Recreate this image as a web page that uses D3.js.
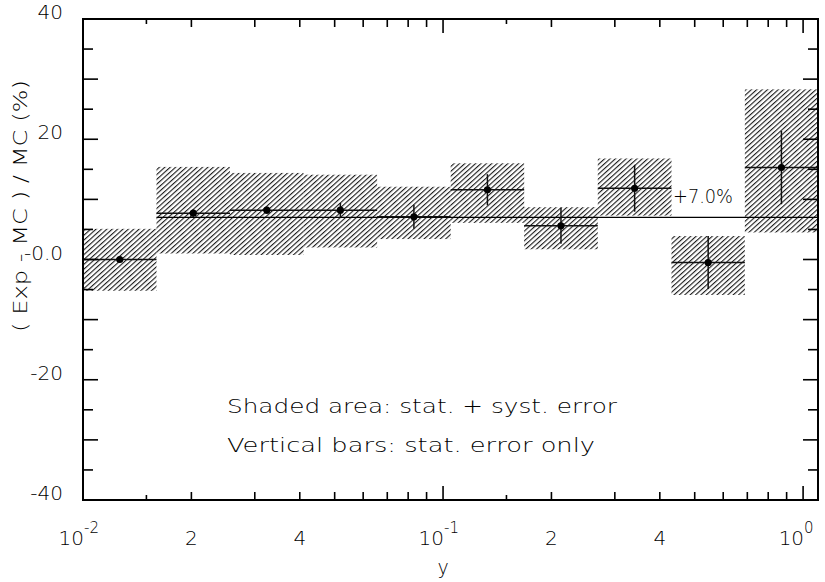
<!DOCTYPE html>
<meta charset="utf-8">
<title>Exp - MC</title>
<script src="https://d3js.org/d3.v7.min.js"></script>
<style>
  body { margin: 0; background: #fff; }
  text { font-family: "DejaVu Sans", "Liberation Sans", sans-serif; font-weight: 200; fill: #000; }
</style>
<div id="plot"></div>
<script>

    // bin edges in y (log spaced) and the measured points
    var binEdges = [0.01, 0.016, 0.0256, 0.041, 0.0656, 0.105, 0.168, 0.269, 0.431, 0.689, 1.1];
    var values   = [0.0, 7.7, 8.2, 8.2, 7.1, 11.6, 5.6, 11.85, -0.5, 15.3];
    var statErr  = [0.5, 0.6, 0.6, 1.2, 2.0, 2.6, 3.0, 3.9, 4.4, 6.1];
    var boxLow   = [-5.2, 1.0, 0.75, 2.0, 3.4, 6.1, 1.7, 7.3, -5.9, 4.5];
    var boxHigh  = [5.1, 15.4, 14.4, 14.1, 12.1, 16.0, 8.7, 16.8, 3.9, 28.3];
    var meanLine = 7.0;

    var yTickValues = [-40, -20, 0, 20, 40];
    var yTickLabels = ["-40", "-20", "-0.0", "20", "40"];
    var xLabelValues = [0.01, 0.02, 0.04, 0.1, 0.2, 0.4, 1];
    var xLabelBase   = ["10", "2", "4", "10", "2", "4", "10"];
    var xLabelExp    = ["-2", "", "", "-1", "", "", "0"];

    var W = 825, H = 582;
    var margin = {top: 19, right: 7, bottom: 82, left: 83};

    var svg = d3.select("#plot")
      .append("svg")
        .attr("width", W)
        .attr("height", H);

    var x = d3.scaleLog()
      .domain([binEdges[0], binEdges[binEdges.length - 1]])
      .range([margin.left, W - margin.right]);

    var y = d3.scaleLinear()
      .domain([-40, 40])
      .range([H - margin.bottom, margin.top]);

    // hatch pattern for the stat+syst boxes
    var defs = svg.append("defs");
    defs.append("pattern")
        .attr("id", "hatch")
        .attr("patternUnits", "userSpaceOnUse")
        .attr("width", 3.6)
        .attr("height", 3.6)
        .attr("patternTransform", "rotate(48)")
      .append("line")
        .attr("x1", 0.6).attr("y1", 0)
        .attr("x2", 0.6).attr("y2", 3.6)
        .attr("stroke", "#000")
        .attr("stroke-width", 1.0);

    var bins = values.map(function(v, i) {
      return {
        lo: binEdges[i], hi: binEdges[i + 1],
        mid: Math.sqrt(binEdges[i] * binEdges[i + 1]),
        v: v, e: statErr[i], bLo: boxLow[i], bHi: boxHigh[i]
      };
    });

    // shaded boxes
    svg.selectAll("rect.box")
      .data(bins)
      .enter()
      .append("rect")
        .attr("class", "box")
        .attr("x", function(d) { return x(d.lo); })
        .attr("width", function(d) { return x(d.hi) - x(d.lo); })
        .attr("y", function(d) { return y(d.bHi); })
        .attr("height", function(d) { return y(d.bLo) - y(d.bHi); })
        .attr("fill", "url(#hatch)");

    // +7.0% line, starts at the second bin
    svg.append("line")
        .attr("x1", x(binEdges[1]))
        .attr("x2", x.range()[1])
        .attr("y1", y(meanLine))
        .attr("y2", y(meanLine))
        .attr("stroke", "#000")
        .attr("stroke-width", 1.3);

    svg.append("text")
        .attr("x", 673)
        .attr("y", y(meanLine) - 14)
        .attr("font-size", 19)
        .attr("textLength", 60)
        .attr("lengthAdjust", "spacingAndGlyphs")
        .text("+7.0%");

    // horizontal bin widths
    svg.selectAll("line.hbar")
      .data(bins)
      .enter()
      .append("line")
        .attr("class", "hbar")
        .attr("x1", function(d) { return x(d.lo); })
        .attr("x2", function(d) { return x(d.hi); })
        .attr("y1", function(d) { return y(d.v); })
        .attr("y2", function(d) { return y(d.v); })
        .attr("stroke", "#111")
        .attr("stroke-width", 1.5);

    // stat errors
    svg.selectAll("line.vbar")
      .data(bins)
      .enter()
      .append("line")
        .attr("class", "vbar")
        .attr("x1", function(d) { return x(d.mid); })
        .attr("x2", function(d) { return x(d.mid); })
        .attr("y1", function(d) { return y(d.v + d.e); })
        .attr("y2", function(d) { return y(d.v - d.e); })
        .attr("stroke", "#111")
        .attr("stroke-width", 1.5);

    svg.selectAll("circle")
      .data(bins)
      .enter()
      .append("circle")
        .attr("cx", function(d) { return x(d.mid); })
        .attr("cy", function(d) { return y(d.v); })
        .attr("r", 3.6)
        .attr("fill", "#000");

    // frame
    var x0 = x.range()[0], x1 = x.range()[1], y0 = y.range()[0], y1 = y.range()[1];
    svg.append("rect")
        .attr("x", x0).attr("y", y1)
        .attr("width", x1 - x0).attr("height", y0 - y1)
        .attr("fill", "none")
        .attr("stroke", "#000")
        .attr("stroke-width", 2);

    // x ticks: 1, 1.5, 2..9 per decade, bottom and top
    var xTicks = [];
    [0.01, 0.1, 1].forEach(function(dec) {
      [1, 1.5, 2, 3, 4, 5, 6, 7, 8, 9].forEach(function(m) {
        var v = +(dec * m).toPrecision(3);
        if (v <= x.domain()[1]) xTicks.push({v: v, len: m == 1 ? 14 : (m == 1.5 ? 5 : 8)});
      });
    });
    svg.selectAll("line.xtb")
      .data(xTicks)
      .enter()
      .append("line")
        .attr("x1", function(d) { return x(d.v); })
        .attr("x2", function(d) { return x(d.v); })
        .attr("y1", y0)
        .attr("y2", function(d) { return y0 - d.len; })
        .attr("stroke", "#000")
        .attr("stroke-width", 1.6);
    svg.selectAll("line.xtt")
      .data(xTicks)
      .enter()
      .append("line")
        .attr("x1", function(d) { return x(d.v); })
        .attr("x2", function(d) { return x(d.v); })
        .attr("y1", y1)
        .attr("y2", function(d) { return y1 + d.len; })
        .attr("stroke", "#000")
        .attr("stroke-width", 1.6);

    // y ticks every 5, long at multiples of 10
    var yTicks = d3.range(-40, 41, 5);
    svg.selectAll("line.ytl")
      .data(yTicks)
      .enter()
      .append("line")
        .attr("x1", x0)
        .attr("x2", function(d) { return x0 + (d % 10 == 0 ? 15 : 10); })
        .attr("y1", function(d) { return y(d); })
        .attr("y2", function(d) { return y(d); })
        .attr("stroke", "#000")
        .attr("stroke-width", 1.6);
    svg.selectAll("line.ytr")
      .data(yTicks)
      .enter()
      .append("line")
        .attr("x1", x1)
        .attr("x2", function(d) { return x1 - (d % 10 == 0 ? 15 : 10); })
        .attr("y1", function(d) { return y(d); })
        .attr("y2", function(d) { return y(d); })
        .attr("stroke", "#000")
        .attr("stroke-width", 1.6);

    // y tick labels
    svg.selectAll("text.ylab")
      .data(yTickValues)
      .enter()
      .append("text")
        .attr("class", "ylab")
        .attr("x", 63)
        .attr("y", function(d) { return y(d); })
        .attr("text-anchor", "end")
        .attr("font-size", 20)
        .text(function(d, i) { return yTickLabels[i]; });

    // x tick labels, powers of ten get a superscript
    var xl = svg.selectAll("g.xlab")
      .data(xLabelValues)
      .enter()
      .append("g")
        .attr("class", "xlab");
    xl.append("text")
        .attr("x", function(d, i) { return xLabelExp[i] ? x(d) + 1 : x(d); })
        .attr("y", 545)
        .attr("text-anchor", function(d, i) { return xLabelExp[i] ? "end" : "middle"; })
        .attr("font-size", 20)
        .text(function(d, i) { return xLabelBase[i]; });
    xl.append("text")
        .attr("x", function(d) { return x(d) + 1; })
        .attr("y", 533)
        .attr("font-size", 15)
        .text(function(d, i) { return xLabelExp[i]; });

    // axis titles
    svg.append("text")
        .attr("x", 443)
        .attr("y", 574)
        .attr("text-anchor", "middle")
        .attr("font-size", 19)
        .text("y");

    svg.append("text")
        .attr("transform", "translate(27,206) rotate(-90)")
        .attr("text-anchor", "middle")
        .attr("font-size", 20)
        .attr("textLength", 252)
        .attr("lengthAdjust", "spacingAndGlyphs")
        .text("( Exp - MC ) / MC (%)");

    // legend notes
    svg.append("text")
        .attr("x", 227)
        .attr("y", 413)
        .attr("font-size", 20)
        .attr("textLength", 390)
        .attr("lengthAdjust", "spacingAndGlyphs")
        .text("Shaded area: stat. + syst. error");
    svg.append("text")
        .attr("x", 227)
        .attr("y", 452)
        .attr("font-size", 20)
        .attr("textLength", 368)
        .attr("lengthAdjust", "spacingAndGlyphs")
        .text("Vertical bars: stat. error only");

</script>
